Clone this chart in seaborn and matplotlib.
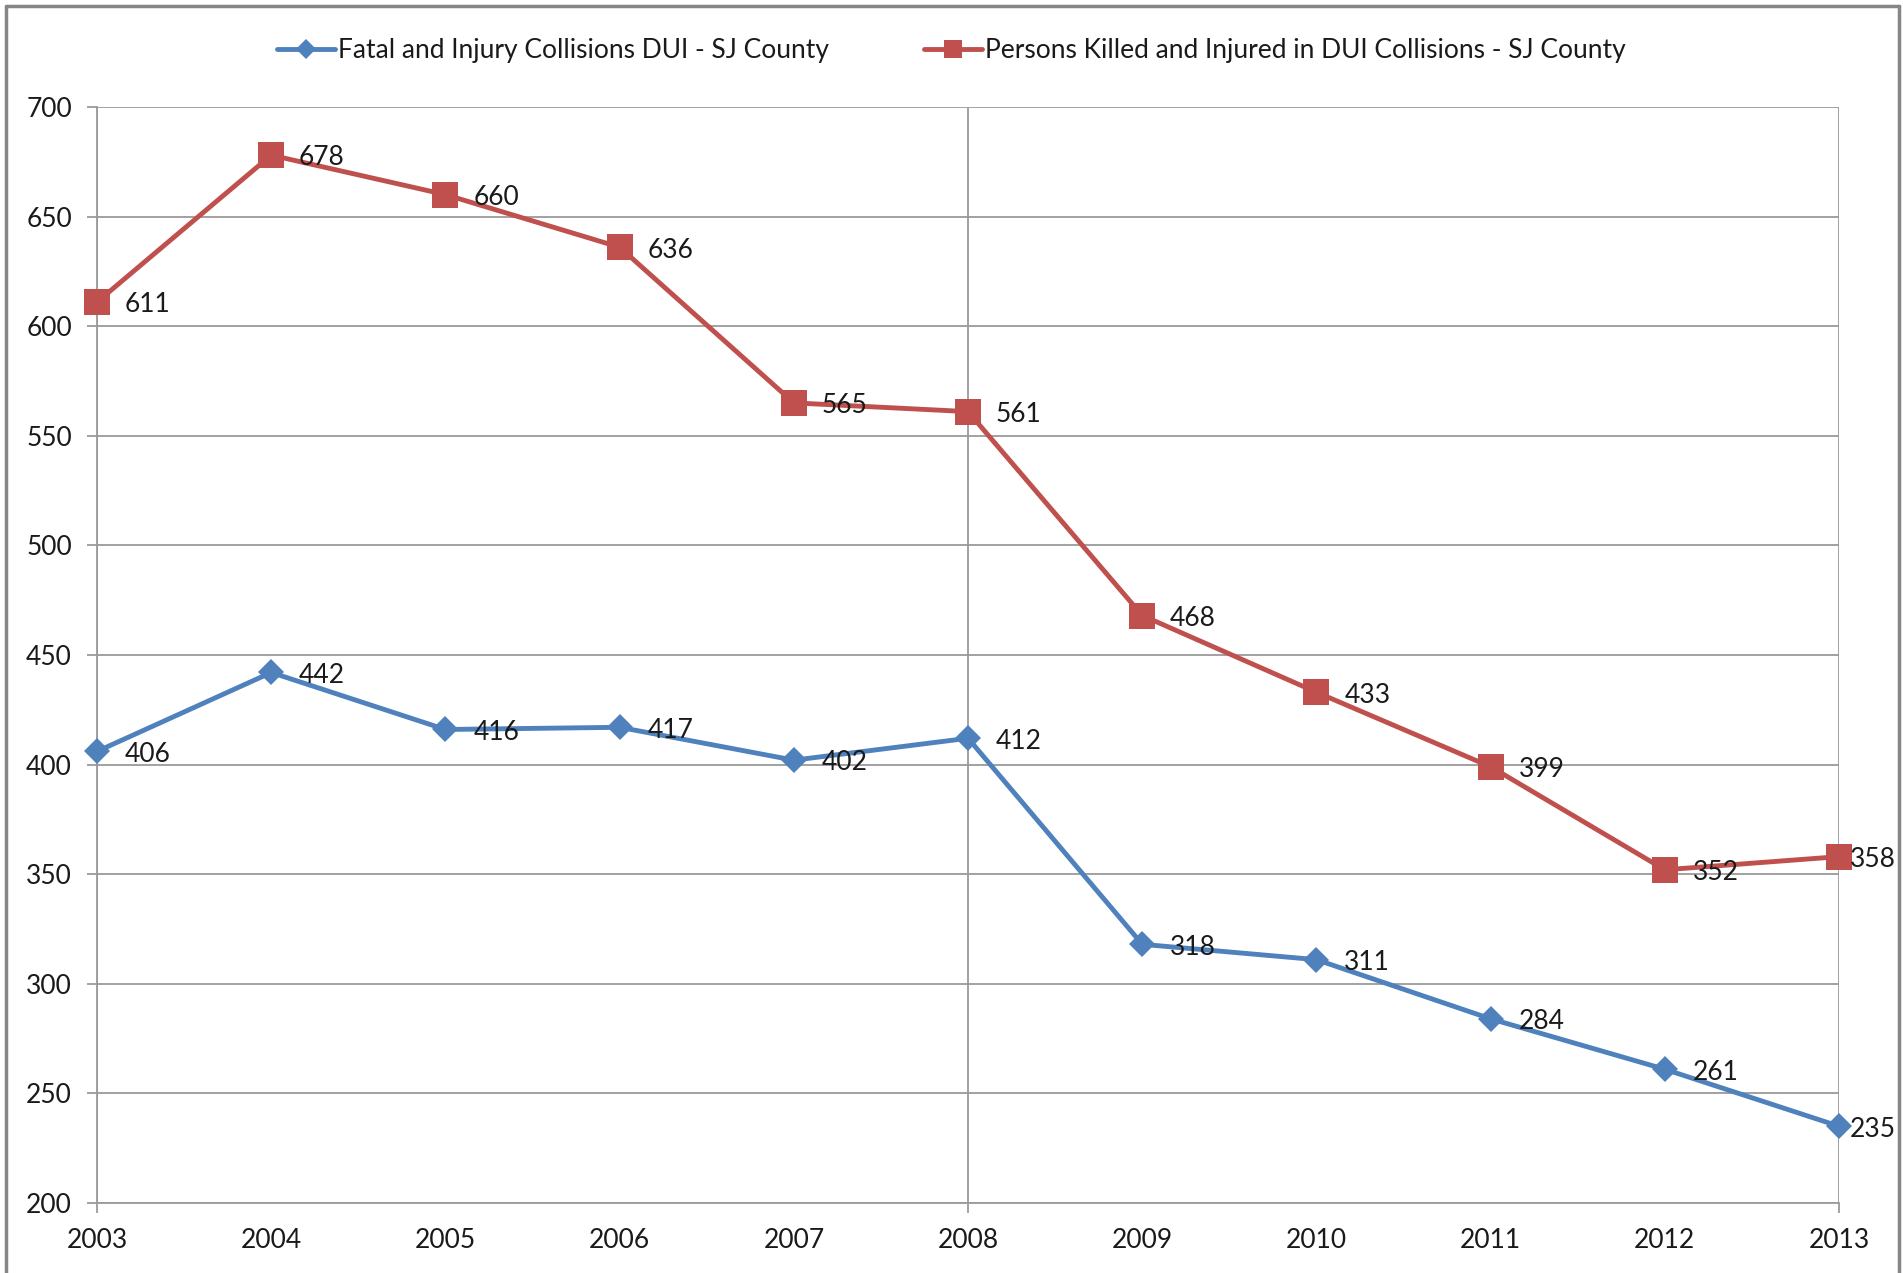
import pandas as pd
import numpy as np
import matplotlib.pyplot as plt
import seaborn as sns
from matplotlib.lines import Line2D

# chart data
years = [2003, 2004, 2005, 2006, 2007, 2008, 2009, 2010, 2011, 2012, 2013]
collisions = [406, 442, 416, 417, 402, 412, 318, 311, 284, 261, 235]
persons = [611, 678, 660, 636, 565, 561, 468, 433, 399, 352, 358]
series_names = ["Fatal and Injury Collisions DUI - SJ County",
                "Persons Killed and Injured in DUI Collisions - SJ County"]
y_ticks = [200, 250, 300, 350, 400, 450, 500, 550, 600, 650, 700]
x_grid_years = [2003, 2008, 2013]

df = pd.concat([
    pd.DataFrame({"Year": years, "Value": collisions, "Series": series_names[0]}),
    pd.DataFrame({"Year": years, "Value": persons, "Series": series_names[1]}),
])

sns.set_theme(style="white")
plt.rcParams['font.family'] = ['Lato', 'DejaVu Sans']

colors = {series_names[0]: "#4F81BD", series_names[1]: "#C0504D"}
markers = {series_names[0]: "D", series_names[1]: "s"}
FS = 19
GRID = "#9a9a9a"

fig = plt.figure(figsize=(19.03, 12.73), dpi=100)
ax = fig.add_axes([0.051, 0.055, 0.9154, 0.861])

sns.lineplot(data=df, x="Year", y="Value", hue="Series", style="Series",
             palette=colors, markers=markers, dashes=False, linewidth=3.5,
             markersize=13, markeredgewidth=0, legend=False, ax=ax, zorder=3)
# square markers a bit bigger than diamonds
for line, ms in zip(ax.lines, [13.5, 18.5]):
    line.set_markersize(ms)
    line.set_clip_on(False)

# data labels
for vals in (collisions, persons):
    for yr, v in zip(years, vals):
        dx = 8 if yr == years[-1] else 20
        ax.annotate(str(v), (yr, v), xytext=(dx, -2), textcoords="offset points",
                    ha="left", va="center", fontsize=FS, color="#1a1a1a", zorder=4)

ax.set_xlim(2003, 2013)
ax.set_ylim(200, 700)
ax.set_yticks(y_ticks)
ax.xaxis.remove_overlapping_locs = False
ax.set_xticks(years)
ax.set_xticklabels([str(y) for y in years])
ax.set_xticks(x_grid_years, minor=True)
ax.grid(True, axis="y", color=GRID, linewidth=1.3)
ax.grid(True, axis="x", which="minor", color=GRID, linewidth=1.3)
ax.grid(False, axis="x", which="major")
ax.tick_params(axis="y", which="major", direction="out", length=7, width=1.3,
               color=GRID, pad=11, labelsize=FS, left=True)
ax.tick_params(axis="x", which="minor", direction="out", length=7, width=1.3,
               color=GRID, bottom=True)
ax.tick_params(axis="x", which="major", length=0, pad=18, labelsize=FS, bottom=True)
for lab in ax.get_yticklabels() + ax.get_xticklabels():
    lab.set_color("#1a1a1a")
ax.set_xlabel("")
ax.set_ylabel("")
for side in ["top", "right"]:
    ax.spines[side].set_visible(False)
for side in ["left", "bottom"]:
    ax.spines[side].set_color(GRID)
    ax.spines[side].set_linewidth(1.3)

handles = [Line2D([0], [0], color=colors[n], marker=markers[n], linewidth=3.5,
                  markersize=(10 if markers[n] == "D" else 13), markeredgewidth=0)
           for n in series_names]
fig.legend(handles, series_names, loc="center", bbox_to_anchor=(0.5, 0.96),
           ncol=2, frameon=False, fontsize=FS, handlelength=2.2,
           handletextpad=0.1, columnspacing=3.6, labelcolor="#1a1a1a")

# outer chart border
for xs, ys in [([0.003, 0.003], [0.0, 0.995]), ([0.003, 0.998], [0.995, 0.995]),
               ([0.998, 0.998], [0.0, 0.995])]:
    fig.add_artist(Line2D(xs, ys, color="#868686", linewidth=2.5, transform=fig.transFigure))

fig.savefig("out.png", dpi=100)
